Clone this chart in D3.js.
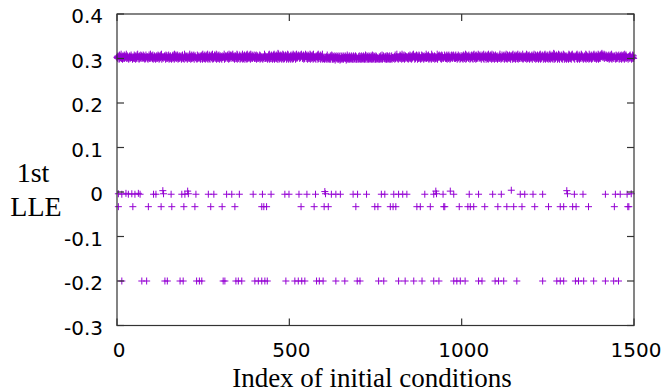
<!DOCTYPE html>
<html>
<head>
<meta charset="utf-8">
<script src="https://cdn.jsdelivr.net/npm/d3@7"></script>
<style>
  html, body { margin: 0; padding: 0; background: #fff; }
  svg { display: block; }
  .tick-label { font-family: "DejaVu Sans", sans-serif; font-size: 20px; fill: #000; }
  .title { font-family: "Liberation Serif", "Times New Roman", serif; font-size: 27px; fill: #000; }
  .ylab { font-family: "Liberation Serif", "Times New Roman", serif; font-size: 28px; fill: #000; }
</style>
</head>
<body>
<svg id="chart" width="663" height="392"></svg>
<script>
// ---- data ----
var xTicks = [0, 500, 1000, 1500];
var yTicks = [-0.3, -0.2, -0.1, 0, 0.1, 0.2, 0.3, 0.4];
var yTickLabels = ["-0.3", "-0.2", "-0.1", "0", "0.1", "0.2", "0.3", "0.4"];

// initial conditions that ended near zero (upper row) and their LLE
var zeroIdx = [4, 14, 26, 33, 43, 52, 62, 67, 106, 113, 133, 135, 157, 188, 197, 205, 207, 229, 265, 281, 318, 333, 355, 395,
  422, 447, 487, 499, 528, 551, 576, 603, 605, 622, 635, 648, 685, 698, 724, 767, 777, 803, 817, 829, 841, 893, 919,
  925, 927, 946, 967, 977, 1022, 1049, 1090, 1115, 1144, 1170, 1183, 1207, 1235, 1305, 1307, 1327, 1352, 1417, 1446, 1460, 1480, 1492];
var zeroVal = [-0.004, -0.005, -0.003, -0.005, -0.004, -0.005, -0.003, -0.005, -0.005, -0.005, 0.003, -0.004, -0.005, -0.005, -0.005, 0.002, -0.004, -0.005, -0.005, -0.005, -0.005, -0.005, -0.005, -0.005,
  -0.005, -0.005, -0.005, -0.005, -0.005, -0.005, -0.005, 0.001, -0.004, -0.005, -0.005, -0.005, -0.005, -0.005, -0.005, -0.005, -0.005, -0.005, -0.005, -0.005, -0.005, -0.005, -0.005,
  0.002, -0.004, -0.005, 0.002, -0.005, -0.005, -0.005, -0.005, -0.005, 0.004, -0.005, -0.005, -0.005, -0.005, 0.003, -0.004, -0.005, -0.005, -0.005, -0.005, -0.005, -0.005, -0.004];

// lower row just below zero
var negIdx = [4, 46, 91, 128, 159, 194, 226, 272, 305, 342, 420, 426, 434, 534, 572, 601, 613, 693, 748,
  757, 793, 801, 809, 870, 880, 909, 948, 951, 993, 1018, 1025, 1035, 1067, 1105, 1131, 1151, 1175, 1212, 1252,
  1286, 1296, 1322, 1332, 1368, 1443, 1482, 1485];
var negVal = -0.033;

// row at -0.2
var lowIdx = [14, 72, 86, 139, 146, 183, 192, 231, 239, 246, 308, 313, 345, 352, 362, 400, 410, 420, 429, 436, 490,
  516, 526, 536, 545, 579, 587, 598, 635, 661, 697, 705, 759, 774, 817, 836, 861, 885, 919, 934, 977, 986, 996, 1010,
  1049, 1059, 1097, 1107, 1122, 1160, 1235, 1276, 1286, 1296, 1330, 1339, 1354, 1383, 1417, 1441, 1455];
var lowVal = -0.2;

// the dense band near 0.30: one digit per index, LLE = bandBase + digit * bandStep
var bandBase = 0.2945, bandStep = 0.0019;
var bandDigits = [
  "4536452736 4583452635 4736452835 6437245634 5743526345 7346253475 8345263547 3624537463 5243756435 2647354836",
  "5463725436 4528364537 4625364738 2546375463 5273645364 7253463725 4637452836 4753647253 4637546253 7463528364",
  "3546273546 3845263745 3647253648 3527364537 4625364728 3546372536 4738254637 2536473825 3647536482 7354637254",
  "4635274635 4827364516 3745283647 5362748354 6273645382 7463547253 6473825364 7254637283 6453746283 5473625473",
  "5364725364 8354726354 7362547382 6354736254 7382635473 6254738263 5473625948 2635473625 4837263547 3625483726",
  "4536274536 2837463527 4836453726 3547382635 4726345873 6452736453 8274635472 8364537263 5472836453 7264538273",
  "3425364253 7426352436 2537426352 4361523462 5342635142 6352436253 4263514273 5243625342 6352436253 4263524362",
  "3526342536 2435263425 3724362534 2635243625 3724362534 2635243726 3524362537 2436253425 3624362534 2637253624",
  "4536452736 4583452635 4736452835 6437245634 5743526345 7346253475 8345263547 3624537463 5243756435 2647354836",
  "5463725436 4528364537 4625364738 2546375463 5273645364 7253463725 4637452836 4753647253 4637546253 7463528364",
  "4635274635 4827364516 3745283647 5362748354 6273645382 7463547253 6473825364 7254637283 6453746283 5473625473",
  "3546273546 3845263745 3647253648 3527364537 4625364728 3546372536 4738254637 2536473825 3647536482 7354637254",
  "5364725364 8354726354 7362547382 6354736254 7382635473 6254738263 5473625948 2635473625 4837263547 3625483726",
  "4536274536 2837463527 4836453726 3547382635 4726345873 6452736453 8274635472 8364537263 5472836453 7264538273",
  "4637586957 4658375647 4635364725 3647382546 3754635273 6453647253 4637254637 4528364753 6472534637 5462537463"
].join("").replace(/\s/g, "");

(function () {
  var svg = d3.select("#chart");
  var plotL = 117, plotR = 634, plotT = 14, plotB = 325.5;
  var color = "#9400d3";
  var frameColor = "#333";

  var x = d3.scaleLinear().domain([0, 1500]).range([plotL, plotR]);
  var y = d3.scaleLinear().domain([-0.3, 0.4]).range([plotB, plotT]);

  // assemble points: clusters first, everything else in the band
  var used = new Set();
  var pts = [];
  zeroIdx.forEach(function (i, k) { used.add(i); pts.push([i, zeroVal[k]]); });
  negIdx.forEach(function (i) { used.add(i); pts.push([i, negVal]); });
  lowIdx.forEach(function (i) { used.add(i); pts.push([i, lowVal]); });
  for (var i = 0; i < bandDigits.length; i++) {
    if (used.has(i)) continue;
    pts.push([i, bandBase + (+bandDigits[i]) * bandStep]);
  }

  // points ("+" markers, gnuplot style)
  var plus = "M-3.5,0H3.5M0,-3.5V3.5";
  svg.append("g")
    .attr("fill", "none").attr("stroke", color).attr("stroke-width", 1)
    .selectAll("path").data(pts).enter().append("path")
    .attr("d", plus)
    .attr("transform", function (d) { return "translate(" + x(d[0]) + "," + y(d[1]) + ")"; });

  // frame + mirrored inward ticks
  var axes = svg.append("g").attr("stroke", frameColor).attr("stroke-width", 1.2).attr("fill", "none");
  axes.append("rect").attr("x", plotL).attr("y", plotT).attr("width", plotR - plotL).attr("height", plotB - plotT);
  var tl = 7;
  xTicks.forEach(function (t) {
    axes.append("line").attr("x1", x(t)).attr("x2", x(t)).attr("y1", plotB).attr("y2", plotB - tl);
    axes.append("line").attr("x1", x(t)).attr("x2", x(t)).attr("y1", plotT).attr("y2", plotT + tl);
  });
  yTicks.forEach(function (t) {
    axes.append("line").attr("x1", plotL).attr("x2", plotL + tl).attr("y1", y(t)).attr("y2", y(t));
    axes.append("line").attr("x1", plotR).attr("x2", plotR - tl).attr("y1", y(t)).attr("y2", y(t));
  });

  // tick labels
  svg.append("g").selectAll("text").data(xTicks).enter().append("text")
    .attr("class", "tick-label")
    .attr("x", function (d) { return x(d) + 2; })
    .attr("y", 357)
    .attr("text-anchor", "middle")
    .text(function (d) { return d; });

  svg.append("g").selectAll("text").data(yTicks).enter().append("text")
    .attr("class", "tick-label")
    .attr("x", 103)
    .attr("y", function (d) { return y(d) + 2; })
    .attr("dy", "0.35em")
    .attr("text-anchor", "end")
    .text(function (d, k) { return yTickLabels[k]; });

  // axis titles
  svg.append("text").attr("class", "title")
    .attr("x", 372).attr("y", 387).attr("text-anchor", "middle")
    .text("Index of initial conditions");
  svg.append("text").attr("class", "ylab")
    .attr("x", 33).attr("y", 181.5).attr("text-anchor", "middle").text("1st");
  svg.append("text").attr("class", "ylab")
    .attr("x", 36).attr("y", 216).attr("text-anchor", "middle").text("LLE");
})();
</script>
</body>
</html>
